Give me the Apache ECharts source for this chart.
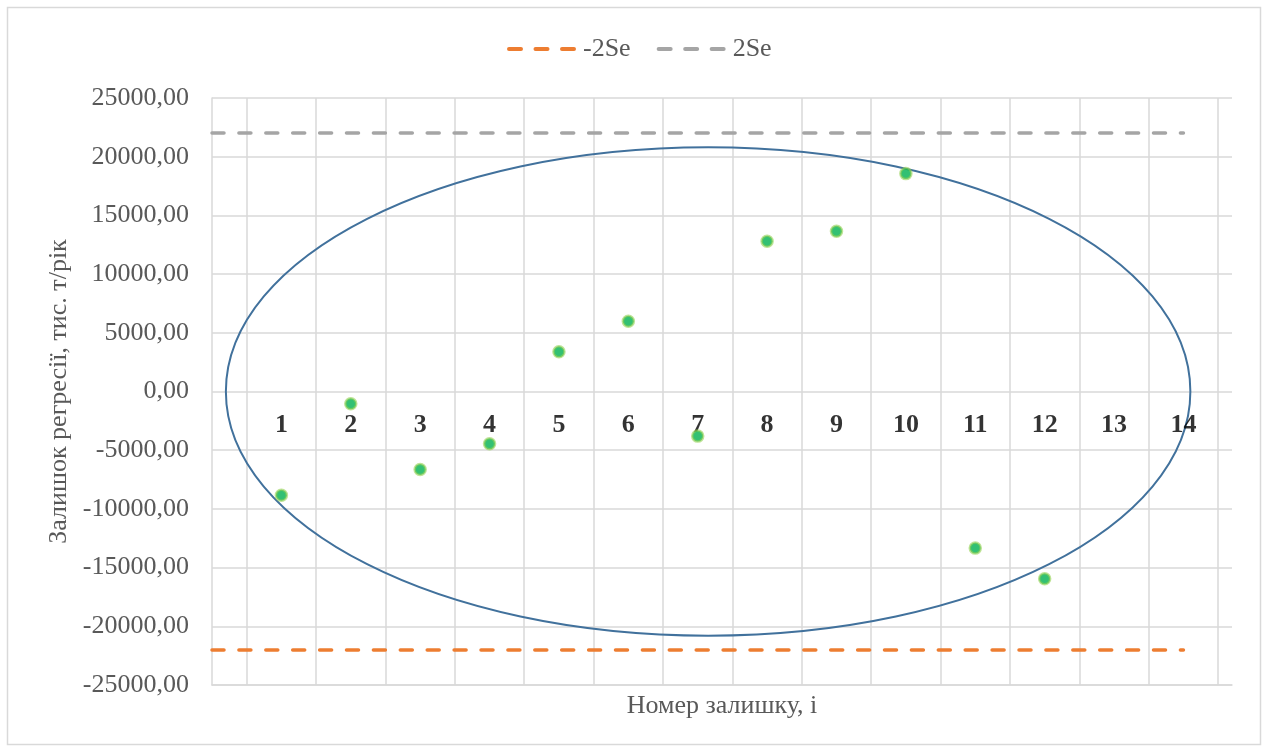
<!DOCTYPE html>
<html>
<head>
<meta charset="utf-8">
<script src="https://cdn.jsdelivr.net/npm/echarts@6/dist/echarts.min.js"></script>
<style>
html,body{margin:0;padding:0;background:#fff;}
#main{width:1267px;height:749px;}
</style>
</head>
<body>
<div id="main"></div>
<script>
// ---- data ----
const residualNo = [1,2,3,4,5,6,7,8,9,10,11,12];
const residuals = [-8830,-1050,-6640,-4450,3380,5990,-3800,12800,13650,18560,-13340,-15950];
const labelNo = [1,2,3,4,5,6,7,8,9,10,11,12,13,14];
const labelY = [-2880,-2880,-2880,-2880,-2880,-2880,-2880,-2880,-2880,-2880,-2880,-2880,-2880,-2880];
const twoSeX = [0, 14];
const plus2Se = [22020, 22020];
const minus2Se = [-22020, -22020];
const yTicks = [-25000, 25000, 5000]; // min, max, step
const xGridLines = [0.5,1.5,2.5,3.5,4.5,5.5,6.5,7.5,8.5,9.5,10.5,11.5,12.5,13.5,14.5];
// ellipse: centre x, centre y, radius x, radius y
const ellipse = [7.15, 0, 6.95, 20800];

const FONT = '"Liberation Serif", "Times New Roman", serif';
const chart = echarts.init(document.getElementById('main'), null, {renderer: 'canvas'});

const option = {
  backgroundColor: '#fff',
  animation: false,
  graphic: [{
    type: 'rect', shape: {x: 7.5, y: 7.5, width: 1253, height: 737},
    style: {fill: 'none', stroke: '#D9D9D9', lineWidth: 1.5}, z: -10, silent: true
  }],
  legend: {
    data: ['-2Se', '2Se'],
    top: 31, left: 502,
    itemWidth: 69, itemHeight: 14, itemGap: 26,
    itemStyle: {opacity: 0},
    lineStyle: {width: 4, type: [12, 14.5], cap: 'round'},
    textStyle: {fontFamily: FONT, fontSize: 26, color: '#595959'}
  },
  grid: {left: 212, right: 35, top: 98, bottom: 64, containLabel: false},
  xAxis: {
    type: 'value', min: 0, max: 14.7,
    name: 'Номер залишку, і', nameLocation: 'middle', nameGap: 8,
    nameTextStyle: {fontFamily: FONT, fontSize: 26, color: '#595959', verticalAlign: 'top'},
    axisLine: {show: true, onZero: false, lineStyle: {color: '#D9D9D9', width: 1.5}},
    axisTick: {show: false, customValues: xGridLines},
    axisLabel: {show: false},
    splitLine: {show: true, lineStyle: {color: '#D9D9D9', width: 1.5}}
  },
  yAxis: {
    type: 'value', min: yTicks[0], max: yTicks[1], interval: yTicks[2],
    name: 'Залишок регресії, тис. т/рік', nameLocation: 'middle', nameGap: 140, nameRotate: 90,
    nameTextStyle: {fontFamily: FONT, fontSize: 26, color: '#595959'},
    axisLine: {show: true, lineStyle: {color: '#D9D9D9', width: 1.5}},
    axisTick: {show: false},
    axisLabel: {
      fontFamily: FONT, fontSize: 26, color: '#595959', margin: 23,
      formatter: v => v.toFixed(2).replace('.', ',')
    },
    splitLine: {show: true, lineStyle: {color: '#D9D9D9', width: 1.5}}
  },
  series: [
    {
      name: '-2Se', type: 'line', symbol: 'none',
      data: twoSeX.map((x, i) => [x, minus2Se[i]]),
      lineStyle: {color: '#ED7D31', width: 3.5, type: [12, 14.9], cap: 'round'},
      itemStyle: {color: '#ED7D31'}, z: 3
    },
    {
      name: '2Se', type: 'line', symbol: 'none',
      data: twoSeX.map((x, i) => [x, plus2Se[i]]),
      lineStyle: {color: '#A5A5A5', width: 3.5, type: [12, 14.9], cap: 'round'},
      itemStyle: {color: '#A5A5A5'}, z: 3
    },
    {
      name: 'ellipse', type: 'custom', z: 4, silent: true,
      data: [ellipse],
      renderItem: function (params, api) {
        const c = api.coord([api.value(0), api.value(1)]);
        const s = api.size([api.value(2), api.value(3)]);
        return {
          type: 'ellipse',
          shape: {cx: c[0], cy: c[1], rx: s[0], ry: s[1]},
          style: {fill: 'none', stroke: '#41719C', lineWidth: 2}
        };
      }
    },
    {
      name: 'labels', type: 'scatter', symbolSize: 1, z: 5,
      itemStyle: {color: 'rgba(0,0,0,0)'},
      data: labelNo.map((x, i) => [x, labelY[i]]),
      label: {
        show: true, position: 'inside',
        formatter: p => String(p.value[0]),
        fontFamily: FONT, fontSize: 26, fontWeight: 'bold', color: '#000'
      }
    },
    {
      name: 'residuals', type: 'scatter', symbol: 'circle', symbolSize: 11, z: 6,
      data: residualNo.map((x, i) => [x, residuals[i]]),
      itemStyle: {color: '#00B050', borderColor: 'rgba(146,208,80,0.75)', borderWidth: 2.5}
    }
  ]
};
chart.setOption(option);
</script>
</body>
</html>
